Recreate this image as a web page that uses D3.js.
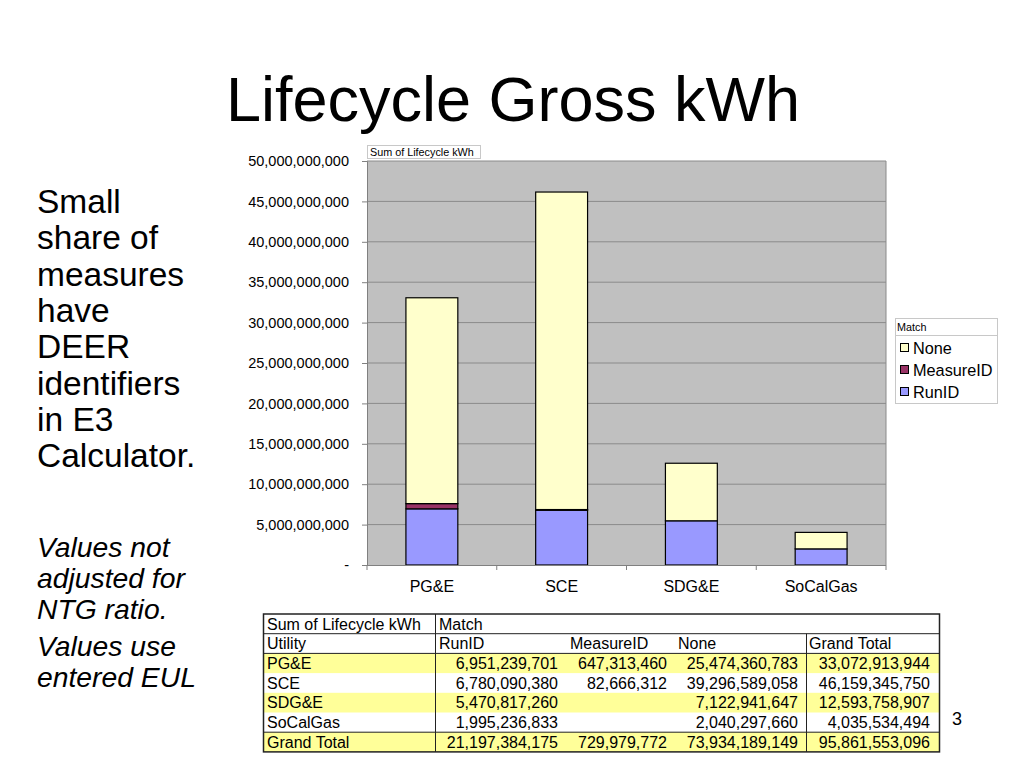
<!DOCTYPE html>
<html><head><meta charset="utf-8">
<script src="https://cdn.jsdelivr.net/npm/d3@7"></script>
<style>
html,body{margin:0;padding:0;background:#fff;}
svg{display:block;font-family:"Liberation Sans",Arial,Helvetica,sans-serif;}
</style></head>
<body>
<svg id="c" width="1024" height="768"></svg>
<script>
// ---- data ----
const utilities = ["PG&E", "SCE", "SDG&E", "SoCalGas"];
const seriesNames = ["RunID", "MeasureID", "None"];
const runID     = [6951239701, 6780090380, 5470817260, 1995236833];
const measureID = [647313460, 82666312, null, null];
const none      = [25474360783, 39296589058, 7122941647, 2040297660];
const rowTotals = [33072913944, 46159345750, 12593758907, 4035534494];
const grandTotals = [21197384175, 729979772, 73934189149, 95861553096];
const yTicks = [0, 5e9, 10e9, 15e9, 20e9, 25e9, 30e9, 35e9, 40e9, 45e9, 50e9];
const seriesColors = {RunID: "#9999ff", MeasureID: "#993366", None: "#ffffcc"};
const leftText = ["Small", "share of", "measures", "have", "DEER", "identifiers", "in E3", "Calculator."];
const noteText = [["Values not", "adjusted for", "NTG ratio."], ["Values use", "entered EUL"]];

const svg = d3.select("#c");
const fmt = d3.format(",");

// title
svg.append("text").attr("x", 513).attr("y", 121).attr("text-anchor", "middle")
  .attr("font-size", 63).attr("fill", "#000").text("Lifecycle Gross kWh");

// left text
leftText.forEach((t, i) => {
  svg.append("text").attr("x", 37).attr("y", 213 + i * 36.3).attr("font-size", 33.5).text(t);
});
let ny = 557;
noteText.forEach((grp, gi) => {
  grp.forEach((t, i) => {
    svg.append("text").attr("x", 37).attr("y", ny).attr("font-size", 28.3)
      .attr("font-style", "italic").text(t);
    ny += 31;
  });
  ny += 6;
});

// chart
const L = 367, R = 886, T = 161, B = 565;
const x = d3.scaleBand().domain(utilities).range([L, R]).paddingInner(0.6).paddingOuter(0.3);
const xb = d3.scaleBand().domain(utilities).range([L, R]);
const y = d3.scaleLinear().domain([0, 50e9]).range([B, T]);

svg.append("rect").attr("x", L).attr("y", T).attr("width", R - L).attr("height", B - T)
  .attr("fill", "#c0c0c0");

svg.append("g").selectAll("line").data(yTicks.filter(d => d > 0)).join("line")
  .attr("x1", L).attr("x2", R).attr("y1", d => y(d)).attr("y2", d => y(d))
  .attr("stroke", "#8a8a8a").attr("stroke-width", 1);
svg.append("line").attr("x1", R).attr("x2", R).attr("y1", T).attr("y2", B)
  .attr("stroke", "#8a8a8a");

// stacked bars
const rows = utilities.map((u, i) => ({u, RunID: runID[i] || 0, MeasureID: measureID[i] || 0, None: none[i] || 0}));
const stack = d3.stack().keys(seriesNames)(rows);
svg.append("g").selectAll("g").data(stack).join("g")
  .attr("fill", d => seriesColors[d.key])
  .selectAll("rect").data(d => d.filter(p => p[1] - p[0] > 0)).join("rect")
  .attr("x", d => x(d.data.u)).attr("width", x.bandwidth())
  .attr("y", d => y(d[1])).attr("height", d => y(d[0]) - y(d[1]))
  .attr("stroke", "#000").attr("stroke-width", 1.2);

// y axis
const yAxis = d3.axisLeft(y).tickValues(yTicks).tickSize(5).tickPadding(13)
  .tickFormat(d => d === 0 ? "-" : fmt(d));
const ya = svg.append("g").attr("transform", `translate(${L},0)`).call(yAxis);
ya.selectAll("text").attr("font-size", 14.5).attr("fill", "#000")
  .attr("font-family", '"Liberation Sans",Arial,sans-serif');
ya.selectAll("line, path").attr("stroke", "#808080");

// x axis
const xAxis = d3.axisBottom(x).tickSize(0).tickPadding(16);
const xa = svg.append("g").attr("transform", `translate(0,${B})`).call(xAxis);
xa.select("path").remove();
xa.selectAll("text").attr("font-size", 16).attr("fill", "#000")
  .attr("font-family", '"Liberation Sans",Arial,sans-serif');
svg.append("line").attr("x1", L - 5).attr("x2", R).attr("y1", B + 0.5).attr("y2", B + 0.5).attr("stroke", "#808080");
svg.append("g").selectAll("line").data(utilities.concat(["end"])).join("line")
  .attr("x1", (d, i) => i < utilities.length ? xb(d) : R)
  .attr("x2", (d, i) => i < utilities.length ? xb(d) : R)
  .attr("y1", B).attr("y2", B + 5).attr("stroke", "#808080");

// chart field label
const fl = svg.append("g");
fl.append("rect").attr("x", 367.5).attr("y", 145.5).attr("width", 113).attr("height", 13)
  .attr("fill", "#fff").attr("stroke", "#c8c8c8");
fl.append("text").attr("x", 370).attr("y", 156).attr("font-size", 10.8).text("Sum of Lifecycle kWh");

// legend
const lg = svg.append("g");
lg.append("rect").attr("x", 895.5).attr("y", 318.5).attr("width", 102).attr("height", 85)
  .attr("fill", "#fff").attr("stroke", "#c8c8c8");
lg.append("line").attr("x1", 896).attr("x2", 997).attr("y1", 335.5).attr("y2", 335.5).attr("stroke", "#c8c8c8");
lg.append("text").attr("x", 897).attr("y", 331).attr("font-size", 10.8).text("Match");
const legOrder = ["None", "MeasureID", "RunID"];
legOrder.forEach((k, i) => {
  const cy = 348 + i * 22;
  lg.append("rect").attr("x", 900.5).attr("y", cy - 4.5).attr("width", 8).attr("height", 8)
    .attr("fill", seriesColors[k]).attr("stroke", "#000");
  lg.append("text").attr("x", 913).attr("y", cy + 5.5).attr("font-size", 16.3).text(k);
});

// pivot table
const tL = 263.5, tR = 939.5, tT = 614, rh = 19.7;
const c1 = 435.5, cGT = 806.5;
const tableRows = utilities.map((u, i) => ({label: u, vals: [runID[i], measureID[i], none[i], rowTotals[i]], hl: i % 2 === 0}));
tableRows.push({label: "Grand Total", vals: grandTotals, hl: true});

const tb = svg.append("g").attr("font-size", 16);
const allRows = [{hdr: 1}, {hdr: 2}].concat(tableRows);
allRows.forEach((r, i) => {
  const ry = tT + i * rh;
  if (r.hl) tb.append("rect").attr("x", tL).attr("y", ry).attr("width", tR - tL).attr("height", rh).attr("fill", "#ffff99");
});
const rightEdges = [558, 667, 798, 930];
allRows.forEach((r, i) => {
  const by = tT + i * rh + 15.5;
  if (r.hdr === 1) {
    tb.append("text").attr("x", 267).attr("y", by).text("Sum of Lifecycle kWh");
    tb.append("text").attr("x", 439).attr("y", by).text("Match");
  } else if (r.hdr === 2) {
    tb.append("text").attr("x", 267).attr("y", by).text("Utility");
    [["RunID", 439], ["MeasureID", 570], ["None", 678], ["Grand Total", 809]].forEach(([t, xx]) =>
      tb.append("text").attr("x", xx).attr("y", by).text(t));
  } else {
    tb.append("text").attr("x", 267).attr("y", by).text(r.label);
    r.vals.forEach((v, j) => {
      if (v) tb.append("text").attr("x", rightEdges[j]).attr("y", by).attr("text-anchor", "end").text(fmt(v));
    });
  }
});
const lineCol = "#222";
tb.append("rect").attr("x", tL).attr("y", tT).attr("width", tR - tL).attr("height", rh * 7)
  .attr("fill", "none").attr("stroke", lineCol).attr("stroke-width", 1.5);
[1, 2, 6].forEach(k => tb.append("line").attr("x1", tL).attr("x2", tR)
  .attr("y1", tT + k * rh).attr("y2", tT + k * rh).attr("stroke", lineCol).attr("stroke-width", 1));
tb.append("line").attr("x1", c1).attr("x2", c1).attr("y1", tT).attr("y2", tT + 7 * rh).attr("stroke", lineCol);
tb.append("line").attr("x1", cGT).attr("x2", cGT).attr("y1", tT + rh).attr("y2", tT + 7 * rh).attr("stroke", lineCol);

// slide number
svg.append("text").attr("x", 957).attr("y", 725).attr("font-size", 18).attr("text-anchor", "middle").text("3");
</script>
</body></html>
